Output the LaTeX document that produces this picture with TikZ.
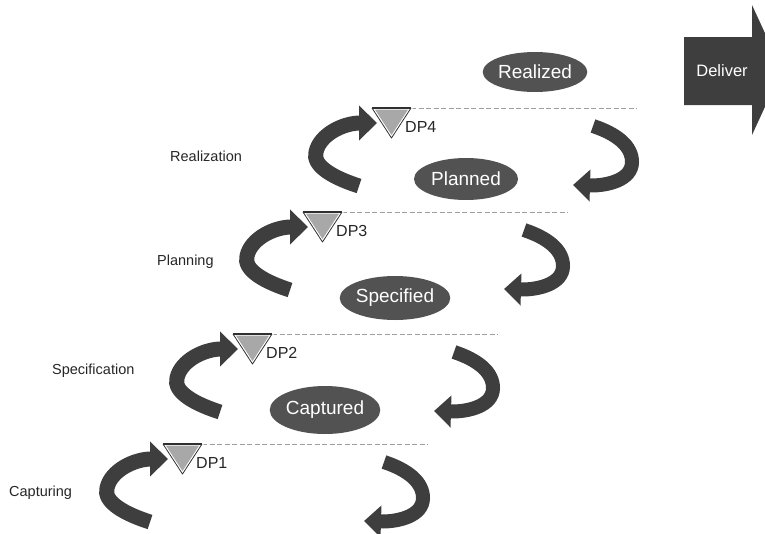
\documentclass[tikz,border=0pt]{standalone}
\usepackage{fontspec}
\setmainfont{Liberation Sans}
\usetikzlibrary{arrows.meta,shapes.geometric}

\definecolor{ribbon}{HTML}{3E3E3E}
\definecolor{statefill}{HTML}{525252}
\definecolor{dpfill}{HTML}{A8A8A8}
\definecolor{dpedge}{HTML}{303030}

\tikzset{
  leftribbon/.style={draw=ribbon, line width=15pt, -{Triangle[length=18pt,width=34pt]}},
  rightribbon/.style={draw=ribbon, line width=14pt, -{Triangle[length=17pt,width=31pt]}},
  statenode/.style={ellipse, fill=statefill, text=white, minimum width=104pt,
    minimum height=44pt, inner sep=0pt, font=\fontsize{19}{22}\selectfont},
  phase/.style={anchor=west, inner sep=0pt, text=black!85, font=\fontsize{14.5}{17}\selectfont},
  dplabel/.style={anchor=west, inner sep=0pt, text=black!85, font=\fontsize{16}{19}\selectfont},
  dpline/.style={draw=gray!75, line width=1pt, dash pattern=on 5pt off 2.5pt},
}

\begin{document}
\begin{tikzpicture}[x=1pt,y=-1pt]
  \useasboundingbox (0,0) rectangle (765,533);

  % decision points: each stage has a left loop, a right loop, a marker and a level line
  \foreach \n/\x/\y in {1/163/444, 2/233/334, 3/303/212, 4/372/108}{
    \begin{scope}[shift={(\x,\y)}]
      \coordinate (ls\n) at (-13,78);
      \coordinate (lt\n) at (5,15);
      \coordinate (rs\n) at (221,18);
      \coordinate (rt\n) at (201,77);
      \coordinate (dl\n) at (0,0);
      \coordinate (dr\n) at (39,0);
      \coordinate (da\n) at (19.5,30);
      \coordinate (de\n) at (265,0);
      \draw[leftribbon] (ls\n) .. controls (-38,70) and (-60,58) .. (-56,44)
        .. controls (-52,26) and (-28,15) .. (lt\n);
      \draw[rightribbon] (rs\n) .. controls (245,26) and (260,38) .. (260,54)
        .. controls (260,72) and (235,78) .. (rt\n);
      \path[dpline] (dr\n) -- (de\n);
      \filldraw[draw=white, line width=3pt, fill=dpfill] (dl\n) -- (dr\n) -- (da\n) -- cycle;
      \draw[dpedge, line width=0.8pt, line join=round] (dl\n) -- (da\n) -- (dr\n);
      \draw[dpedge, line width=2.2pt] (dl\n) -- (dr\n);
      \node[dplabel] (dp\n) at (33,19) {DP\n};
    \end{scope}
  }

  % states between the levels
  \node[statenode, minimum height=40pt] (realized)  at (535,72)  {Realized};
  \node[statenode, minimum height=42pt] (planned)   at (466,179) {Planned};
  \node[statenode]                      (specified) at (395,298) {Specified};
  \node[statenode, minimum width=106pt, minimum height=48pt] (captured) at (325,410) {Captured};

  % phase names
  \node[phase] (realization)   at (170,156) {Realization};
  \node[phase] (planning)      at (157,262) {Planning};
  \node[phase] (specification) at (52,371)  {Specification};
  \node[phase] (capturing)     at (9,493)   {Capturing};

  % delivery block arrow
  \fill[ribbon] (684,37) -- (752,37) -- (752,5) -- (782,70) -- (752,135)
    -- (752,105) -- (684,105) -- cycle;
  \node[text=white, font=\fontsize{16.5}{19}\selectfont] (deliver) at (722,71) {Deliver};
\end{tikzpicture}
\end{document}
